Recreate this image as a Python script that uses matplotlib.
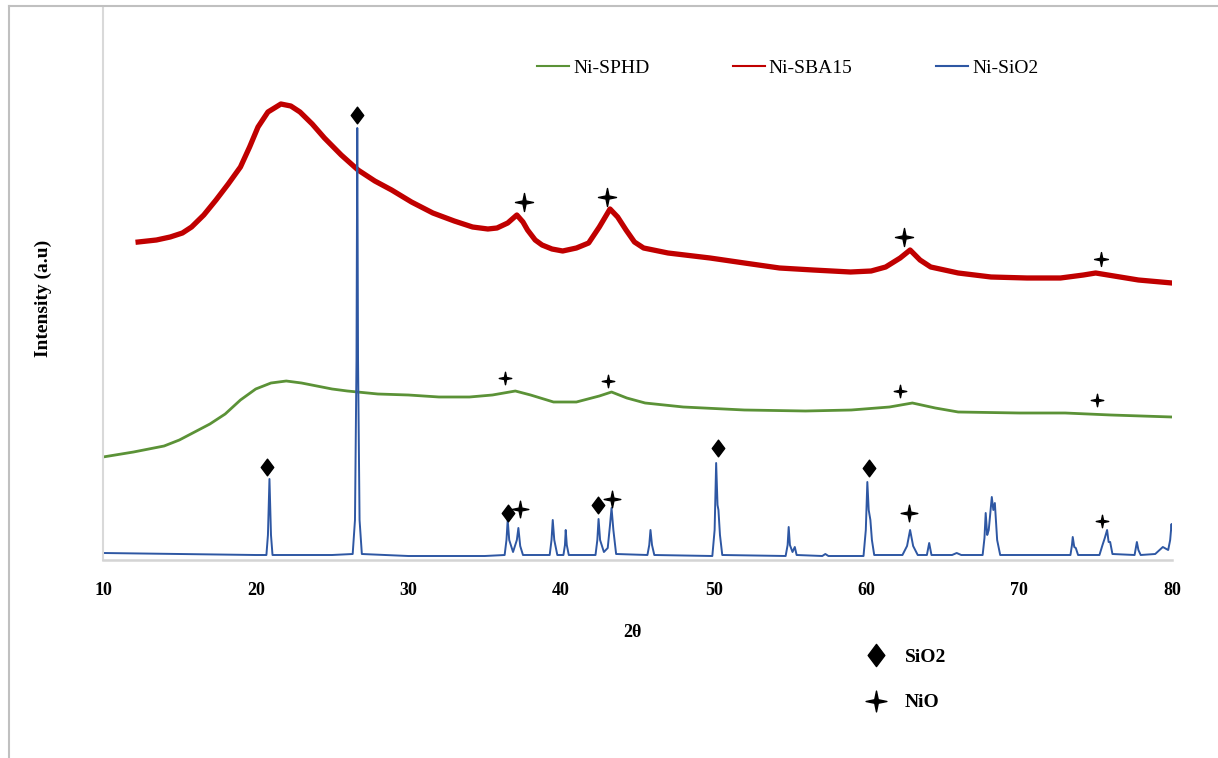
'''
XRD patterns of Ni-SPHD, Ni-SBA15 and Ni-SiO2
'''

import matplotlib
matplotlib.use('Agg')
import matplotlib.pyplot as plt
from matplotlib.lines import Line2D
from matplotlib.path import Path

# 2theta / intensity (a.u.)
sphd_x = [10, 12, 14, 15, 16, 17, 18, 19, 20, 21, 22, 23, 24, 25, 26, 28, 30, 32, 34,
          35.5, 37, 38, 39.5, 41, 42.5, 43.3, 44.3, 45.5, 48, 52, 56, 59, 61.5, 63,
          64.5, 66, 70, 73, 76, 80]
sphd_y = [103, 108, 114, 120, 128, 136, 146, 160, 171, 177, 179, 177, 174, 171, 169,
          166, 165, 163, 163, 165, 169, 165, 158, 158, 164, 168, 162, 157, 153, 150,
          149, 150, 153, 157, 152, 148, 147, 147, 145, 143]

sba15_x = [12.3, 13.5, 14.4, 15.2, 15.8, 16.6, 17.4, 18.2, 19.0, 19.6, 20.15, 20.8,
           21.65, 22.3, 22.9, 23.7, 24.5, 25.6, 26.7, 27.8, 28.9, 30.2, 31.6, 33.0,
           34.2, 35.2, 35.8, 36.5, 37.1, 37.5, 37.8, 38.3, 38.75, 39.4, 40.1, 41.0,
           41.8, 42.5, 43.2, 43.7, 44.25, 44.8, 45.4, 47.0, 49.75, 52.0, 54.3, 56.5,
           58.95, 60.3, 61.25, 62.2, 62.85, 63.5, 64.2, 66.0, 68.15, 70.5, 72.7, 74.2,
           75.0, 75.8, 77.8, 80.0]
sba15_y = [318, 320, 323, 327, 333, 345, 360, 376, 393, 413, 433, 448, 456, 454, 448,
           436, 422, 405, 390, 379, 370, 358, 347, 339, 333, 331, 332, 337, 345, 338,
           330, 320, 315, 311, 309, 312, 317, 333, 351, 343, 330, 318, 312, 307, 302,
           297, 292, 290, 288, 289, 293, 302, 310, 300, 293, 287, 283, 282, 282, 285,
           287, 285, 280, 277]

sio2_x = [10, 15, 20, 20.7, 20.8, 20.9, 21.0, 21.1, 25, 26.35, 26.5, 26.6, 26.65, 26.7,
          26.8, 26.95, 30, 35, 36.3, 36.42, 36.5, 36.6, 36.85, 37.1, 37.2, 37.32, 37.5,
          39.25, 39.37, 39.45, 39.55, 39.75, 40.15, 40.25, 40.3, 40.37, 40.5, 42.25,
          42.37, 42.45, 42.55, 42.8, 43.05, 43.2, 43.3, 43.42, 43.6, 45.65, 45.77,
          45.85, 45.95, 46.1, 49.9, 50.05, 50.15, 50.24, 50.3, 50.4, 50.55, 54.7, 54.83,
          54.9, 54.98, 55.15, 55.3, 55.42, 57.1, 57.3, 57.5, 59.8, 59.95, 60.05, 60.14,
          60.25, 60.35, 60.5, 62.35, 62.65, 62.85, 63.05, 63.35, 63.95, 64.1, 64.25,
          65.6, 65.9, 66.2, 67.6, 67.72, 67.8, 67.9, 68.0, 68.2, 68.3, 68.4, 68.55,
          68.75, 73.35, 73.45, 73.5, 73.6, 73.7, 73.85, 75.25, 75.45, 75.6, 75.75,
          75.85, 75.95, 76.1, 77.55, 77.7, 77.8, 77.95, 78.9, 79.4, 79.75, 79.88,
          79.97, 80]
sio2_y = [7, 6, 5, 5, 25, 81, 25, 5, 5, 6, 40, 200, 432, 200, 40, 6, 4, 4, 5, 20, 40,
          20, 8, 20, 32, 14, 5, 5, 20, 40, 20, 5, 5, 15, 30, 15, 5, 5, 20, 41, 20, 8, 12,
          35, 52, 30, 6, 5, 15, 30, 15, 5, 4, 30, 97, 55, 50, 25, 5, 4, 15, 33, 15, 8,
          13, 5, 4, 6, 4, 4, 30, 78, 50, 40, 20, 5, 5, 14, 30, 14, 5, 5, 17, 5, 5, 7, 5,
          5, 22, 47, 25, 30, 63, 50, 57, 20, 5, 5, 15, 23, 13, 12, 5, 5, 15, 22, 30, 18,
          18, 6, 5, 18, 10, 5, 6, 13, 10, 20, 36, 30]

# peak identification marks
sio2_mark_x = [20.75, 26.65, 36.5, 42.4, 50.25, 60.15]
sio2_mark_y = [93, 445, 47, 55, 112, 92]
nio_blue_x = [37.3, 43.3, 62.8, 75.4]
nio_blue_y = [51, 61, 47, 39]
nio_red_x = [37.6, 43.0, 62.45, 75.35]
nio_red_y = [358, 363, 323, 301]
nio_green_x = [36.3, 43.07, 62.2, 75.1]
nio_green_y = [182, 179, 169, 160]

serif = 'Liberation Serif'
plt.rcParams['font.family'] = serif

star = Path([(0, 1), (0.17, 0.17), (1, 0), (0.17, -0.17), (0, -1), (-0.17, -0.17),
             (-1, 0), (-0.17, 0.17), (0, 1)], closed=True)
diamond = Path([(0, 1), (0.75, 0), (0, -1), (-0.75, 0), (0, 1)], closed=True)

green, red, blue = '#5b9237', '#c00000', '#2e57a3'

fig = plt.figure(figsize=(12.18, 7.58), dpi=100)
ax = fig.add_axes([103/1218, 1 - 560/758, 1069/1218, 553/758])

ax.plot(sphd_x, sphd_y, color=green, lw=2.0)
ax.plot(sba15_x, sba15_y, color=red, lw=3.8)
ax.plot(sio2_x, sio2_y, color=blue, lw=1.4)

ax.plot(sio2_mark_x, sio2_mark_y, ls='none', marker=diamond, ms=12, color='black')
ax.plot(nio_blue_x[:3], nio_blue_y[:3], ls='none', marker=star, ms=12, color='black')
ax.plot(nio_blue_x[3:], nio_blue_y[3:], ls='none', marker=star, ms=9, color='black')
ax.plot(nio_red_x[:3], nio_red_y[:3], ls='none', marker=star, ms=13, color='black')
ax.plot(nio_red_x[3:], nio_red_y[3:], ls='none', marker=star, ms=10, color='black')
ax.plot(nio_green_x, nio_green_y, ls='none', marker=star, ms=9, color='black')

ax.set_xlim(10, 80)
ax.set_ylim(0, 553)
ax.set_xticks(range(10, 81, 10))
ax.set_yticks([])
ax.tick_params(axis='x', length=0, pad=16, labelsize=13)
for t in ax.get_xticklabels():
    t.set_fontweight('bold')
for s in ['top', 'right']:
    ax.spines[s].set_visible(False)
ax.spines['left'].set_color('#d9d9d9')
ax.spines['left'].set_linewidth(1.5)
ax.spines['bottom'].set_color('#d4d4d4')
ax.spines['bottom'].set_linewidth(1.8)

ax.set_xlabel('2θ', fontsize=13, fontweight='bold')
ax.xaxis.set_label_coords(0.495, -0.115)
ax.set_ylabel('Intensity (a.u)', fontsize=14, fontweight='bold')
ax.yaxis.set_label_coords(-0.048, 0.474)

series_handles = [Line2D([], [], color=green, lw=1.5),
                  Line2D([], [], color=red, lw=1.5),
                  Line2D([], [], color=blue, lw=1.5)]
leg1 = ax.legend(series_handles, ['Ni-SPHD', 'Ni-SBA15', 'Ni-SiO2'],
                 loc='upper left', bbox_to_anchor=(537/1218, 1 - 59/758),
                 bbox_transform=fig.transFigure, ncol=3, frameon=False,
                 fontsize=14, handlelength=1.65, handletextpad=0.2,
                 columnspacing=4.3, borderpad=0, borderaxespad=0)
ax.add_artist(leg1)

h_sio2 = Line2D([], [], ls='none', marker=diamond, ms=16, color='black')
h_nio = Line2D([], [], ls='none', marker=star, ms=15, color='black')
leg2 = ax.legend([h_sio2, h_nio], ['SiO2', 'NiO'], loc='upper left',
                 bbox_to_anchor=(866/1218, 1 - 648/758), bbox_transform=fig.transFigure,
                 frameon=False, handlelength=1.0, handletextpad=1.0,
                 labelspacing=1.45, borderpad=0, borderaxespad=0,
                 prop={'family': serif, 'size': 14, 'weight': 'bold'})

# outer frame of the original picture (top and left edges only)
fig.add_artist(Line2D([9/1218, 1], [1 - 6/758, 1 - 6/758], color='#c0c0c0', lw=1.5,
                      transform=fig.transFigure))
fig.add_artist(Line2D([9/1218, 9/1218], [0, 1 - 6/758], color='#c0c0c0', lw=1.5,
                      transform=fig.transFigure))

plt.savefig('out.png', dpi=100)
